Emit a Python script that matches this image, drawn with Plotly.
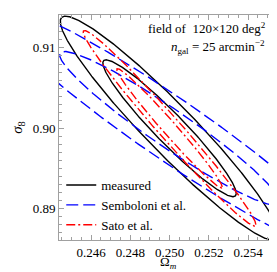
import numpy as np
import plotly.graph_objects as go

# Fiducial cosmology (centre of all contours)
omega_m_fid = 0.25
sigma8_fid = 0.90

# Forecast Fisher-ellipse parameters
series_names = ["measured", "Semboloni et al.", "Sato et al."]
sigma_omega = [0.00224, 0.00369, 0.00177]
sigma_s8 = [0.00562, 0.00630, 0.00490]
rho = [-0.952, -0.955, -0.985]
delta_chi2 = [2.30, 6.17]  # 68% and 95% levels for 2 parameters

colors = ["rgb(0,0,0)", "rgb(0,0,255)", "rgb(255,0,0)"]
dashes = ["solid", "12px,5px", "9px,3px,2px,3px"]

x_ticks = [0.246, 0.248, 0.250, 0.252, 0.254]
y_ticks = [0.89, 0.90, 0.91]

info_lines = ["field of  120×120 deg<sup>2</sup>",
              "<i>n</i><sub>gal</sub> = 25 arcmin<sup>−2</sup>"]
info_x = [0.39, 0.49]
info_y = [0.985, 0.905]

t = np.linspace(0, 2 * np.pi, 721)
fig = go.Figure()
for name, sx, sy, r, col, dsh in zip(series_names, sigma_omega, sigma_s8, rho, colors, dashes):
    cov = np.array([[sx * sx, r * sx * sy], [r * sx * sy, sy * sy]])
    L = np.linalg.cholesky(cov)
    xs, ys = [], []
    for d in delta_chi2:
        pts = np.sqrt(d) * (L @ np.vstack([np.cos(t), np.sin(t)]))
        xs += list(omega_m_fid + pts[0]) + [None]
        ys += list(sigma8_fid + pts[1]) + [None]
    fig.add_trace(go.Scatter(x=xs, y=ys, mode="lines", name=name,
                             line=dict(color=col, width=1.4, dash=dsh)))

axis_common = dict(showline=True, linecolor="#a0a0a0", linewidth=1, mirror="allticks",
                   ticks="inside", ticklen=5, tickcolor="#a0a0a0", tickwidth=1,
                   showgrid=False, zeroline=False,
                   tickfont=dict(family="Liberation Serif", size=13, color="black"))

fig.update_xaxes(range=[0.24437, 0.25578], tickvals=x_ticks, tickformat=".3f",
                 minor=dict(dtick=0.0005, tick0=0.246, ticks="inside", ticklen=3, tickcolor="#a0a0a0"),
                 **axis_common)
fig.update_yaxes(range=[0.88609, 0.9141], tickvals=y_ticks, tickformat=".2f",
                 minor=dict(dtick=0.001, tick0=0.89, ticks="inside", ticklen=3, tickcolor="#a0a0a0"),
                 title=dict(text="<i>σ</i><sub>8</sub>", font=dict(family="Liberation Serif", size=15, color="black"), standoff=6),
                 **axis_common)

# x-axis title as annotation (keeps it inside the small canvas)
fig.add_annotation(xref="paper", yref="paper", x=0.49, y=-0.102, xanchor="center", yanchor="middle",
                   showarrow=False, text="Ω<sub><i>m</i></sub>", borderpad=0,
                   font=dict(family="Liberation Serif", size=13, color="black"))

for line, xi, yi in zip(info_lines, info_x, info_y):
    fig.add_annotation(xref="paper", yref="paper", x=xi, y=yi,
                       xanchor="left", yanchor="top", showarrow=False,
                       text=line, font=dict(family="Liberation Serif", size=13, color="black"))

fig.update_layout(width=277, height=272, margin=dict(l=51, r=2, t=7, b=40),
                  plot_bgcolor="white", paper_bgcolor="white",
                  legend=dict(x=0.01, y=0.0, xanchor="left", yanchor="bottom",
                              bgcolor="rgba(0,0,0,0)", borderwidth=0,
                              font=dict(family="Liberation Serif", size=13, color="black"),
                              tracegroupgap=0))
fig.write_html("out.html")
